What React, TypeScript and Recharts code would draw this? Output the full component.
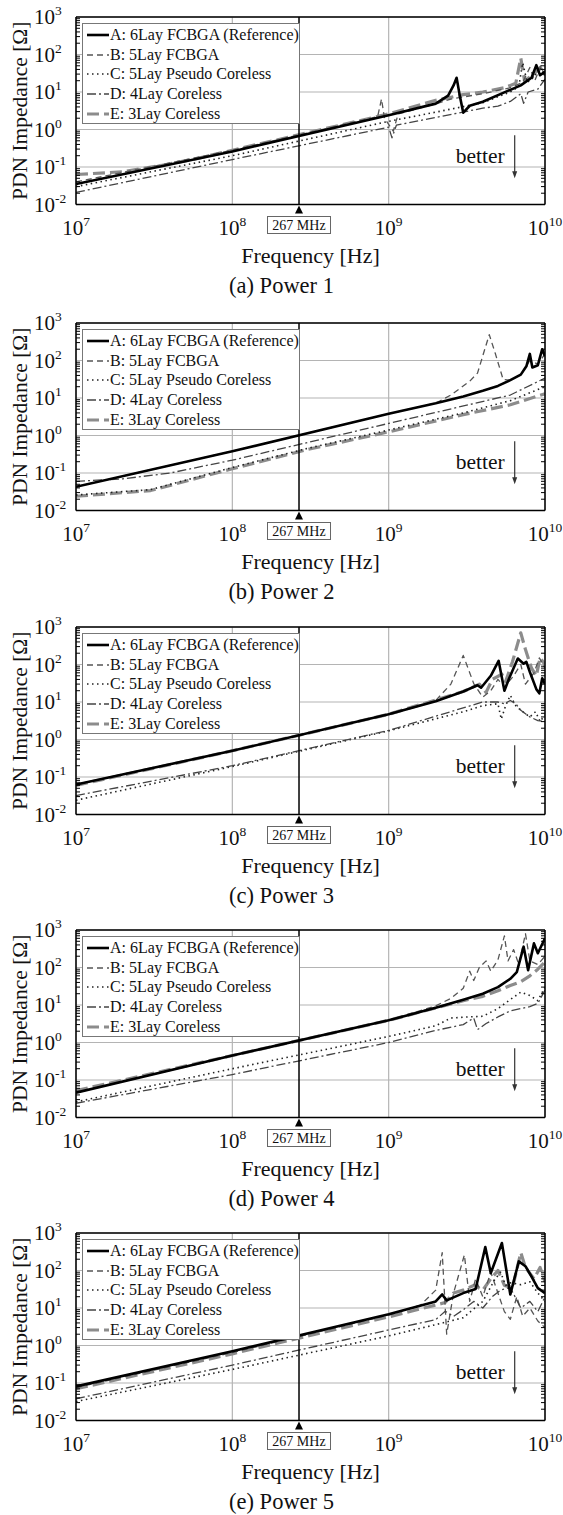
import React from "react"
import { LineChart, Line, XAxis, YAxis, CartesianGrid, ReferenceLine, Legend } from "recharts"

type Pt = [number, number] // [frequency Hz, impedance Ohm]

// (a) Power 1
const p1A: Pt[] = [[1e7, 0.035], [1e8, 0.26], [1e9, 2.4], [2e9, 4.9], [2.4e9, 8], [2.6e9, 15], [2.72e9, 24], [2.85e9, 8], [3e9, 2.8], [3.3e9, 4.3], [4e9, 5.5], [5.4e9, 9.5], [7e9, 15], [8.2e9, 24], [8.8e9, 52], [9.3e9, 28], [1e10, 35]]
const p1B: Pt[] = [[1e7, 0.04], [1e8, 0.28], [8.5e8, 2.2], [9e8, 6.5], [9.4e8, 2.0], [1.07e9, 0.9], [1.15e9, 2.6], [2e9, 4.8], [2.5e9, 6.5], [4e9, 9], [6e9, 13], [7.2e9, 18], [8e9, 45], [8.6e9, 20], [9.4e9, 50], [1e10, 25]]
const p1C: Pt[] = [[1e7, 0.03], [1e8, 0.2], [1e9, 1.65], [2e9, 2.9], [4e9, 5.2], [6e9, 10], [6.8e9, 14], [7.2e9, 60], [7.7e9, 18], [8.5e9, 25], [9.2e9, 45], [1e10, 30]]
const p1D: Pt[] = [[1e7, 0.021], [1e8, 0.158], [1e9, 1.15], [1.05e9, 0.6], [1.12e9, 1.3], [2e9, 2.1], [4e9, 3.7], [5e9, 4.2], [6e9, 5.6], [7e9, 9], [7.3e9, 5], [7.8e9, 10], [9e9, 12], [1e10, 22]]
const p1E: Pt[] = [[1e7, 0.063], [2e7, 0.075], [3.5e7, 0.11], [6e7, 0.17], [1e8, 0.28], [1e9, 2.6], [2e9, 6], [3e9, 8.5], [4e9, 10], [5.5e9, 13], [6.5e9, 17], [7e9, 80], [7.4e9, 20], [8.5e9, 30], [9.3e9, 45], [1e10, 30]]

// (b) Power 2
const p2A: Pt[] = [[1e7, 0.043], [1e8, 0.38], [1e9, 3.8], [2e9, 7.2], [3e9, 11], [4e9, 15.6], [5e9, 21], [6e9, 30], [7e9, 42], [7.6e9, 70], [8e9, 150], [8.3e9, 65], [9e9, 75], [9.6e9, 200], [1e10, 130]]
const p2B: Pt[] = [[1e7, 0.043], [1e8, 0.38], [1e9, 3.8], [2e9, 7.3], [2.5e9, 12], [3.3e9, 28], [3.7e9, 46], [4.4e9, 490], [4.8e9, 158], [5.4e9, 31], [6e9, 30], [7e9, 42], [8e9, 100], [9e9, 80], [1e10, 150]]
const p2C: Pt[] = [[1e7, 0.026], [3e7, 0.036], [1e8, 0.14], [3e8, 0.45], [1e9, 1.4], [3e9, 4], [6e9, 8.5], [1e10, 20]]
const p2D: Pt[] = [[1e7, 0.06], [2e7, 0.07], [4e7, 0.1], [1e8, 0.22], [1e9, 2.1], [6e9, 12], [1e10, 34]]
const p2E: Pt[] = [[1e7, 0.024], [3e7, 0.034], [1e8, 0.13], [3e8, 0.42], [1e9, 1.25], [3e9, 3.6], [6e9, 6.6], [1e10, 13]]

// (c) Power 3
const p3A: Pt[] = [[1e7, 0.063], [1e8, 0.5], [1e9, 4.7], [2e9, 10.5], [3e9, 19], [3.7e9, 28], [3.9e9, 24], [4.5e9, 50], [5.05e9, 125], [5.5e9, 20], [5.9e9, 43], [6.7e9, 144], [7.3e9, 105], [7.6e9, 117], [8e9, 63], [8.8e9, 22], [9.2e9, 17], [9.6e9, 43], [1e10, 30]]
const p3B: Pt[] = [[1e7, 0.063], [1e8, 0.5], [1e9, 4.8], [2e9, 11], [2.5e9, 30], [3e9, 175], [3.5e9, 31], [4e9, 13.5], [4.5e9, 20], [5e9, 40], [5.5e9, 25], [6.3e9, 50], [7e9, 100], [7.5e9, 30], [8.5e9, 60], [9.2e9, 150], [1e10, 80]]
const p3C: Pt[] = [[1e7, 0.024], [1e8, 0.19], [1e9, 1.7], [3e9, 5.5], [4e9, 8], [5e9, 9], [5.25e9, 3.5], [5.6e9, 8], [6e9, 15], [6.5e9, 8], [7e9, 6], [8e9, 4], [8.7e9, 5.5], [9.3e9, 3], [1e10, 4.5]]
const p3D: Pt[] = [[1e7, 0.032], [1e8, 0.2], [1e9, 1.75], [4e9, 10], [5e9, 10], [5.5e9, 9], [6e9, 11], [6.5e9, 9], [7e9, 6], [8e9, 4], [9e9, 3.2], [1e10, 3]]
const p3E: Pt[] = [[1e7, 0.06], [1e8, 0.5], [1e9, 4.7], [3e9, 19], [3.8e9, 30], [4.2e9, 18], [4.6e9, 40], [5.3e9, 55], [5.6e9, 35], [6.2e9, 120], [7e9, 700], [7.5e9, 250], [8.2e9, 80], [8.8e9, 50], [9.3e9, 150], [1e10, 100]]

// (d) Power 4
const p4A: Pt[] = [[1e7, 0.046], [1e8, 0.45], [1e9, 3.9], [2e9, 8.4], [3e9, 13.8], [4e9, 20], [5e9, 30], [6e9, 50], [6.6e9, 75], [7.3e9, 360], [7.8e9, 85], [8.5e9, 440], [9e9, 240], [1e10, 600]]
const p4B: Pt[] = [[1e7, 0.046], [1e8, 0.45], [1e9, 3.9], [2e9, 9.5], [2.5e9, 15], [3e9, 28], [3.3e9, 80], [3.5e9, 45], [3.8e9, 100], [4.2e9, 150], [4.5e9, 80], [5e9, 160], [5.5e9, 700], [5.8e9, 150], [6.3e9, 300], [6.8e9, 120], [7.5e9, 800], [8e9, 150], [9e9, 120], [1e10, 200]]
const p4C: Pt[] = [[1e7, 0.026], [1e8, 0.2], [1e9, 1.45], [2e9, 2.8], [2.5e9, 4.5], [3.2e9, 4.8], [4e9, 5], [5e9, 8], [6e9, 14], [7e9, 22], [8e9, 18], [9e9, 13], [1e10, 30]]
const p4D: Pt[] = [[1e7, 0.024], [1e8, 0.14], [1e9, 1.0], [2e9, 2.1], [3e9, 3], [3.5e9, 4.5], [3.7e9, 2.2], [4.2e9, 3.2], [5e9, 4.8], [6e9, 7], [8e9, 9], [9e9, 11], [1e10, 25]]
const p4E: Pt[] = [[1e7, 0.052], [1e8, 0.45], [1e9, 3.9], [3e9, 13], [4e9, 17], [5e9, 24], [6e9, 33], [7e9, 42], [8e9, 60], [9e9, 90], [1e10, 140]]

// (e) Power 5
const p5A: Pt[] = [[1e7, 0.081], [1e8, 0.7], [1e9, 6.8], [2e9, 15], [2.2e9, 23], [2.35e9, 16], [3e9, 25], [3.6e9, 32], [4.15e9, 420], [4.5e9, 85], [5.3e9, 540], [6e9, 23], [6.8e9, 175], [7.5e9, 130], [8.3e9, 63], [9e9, 34], [1e10, 25]]
const p5B: Pt[] = [[1e7, 0.075], [1e8, 0.65], [1e9, 6.5], [1.6e9, 12], [2e9, 30], [2.2e9, 300], [2.35e9, 2], [2.6e9, 25], [3.05e9, 260], [3.3e9, 15], [3.6e9, 60], [4e9, 20], [4.5e9, 90], [5e9, 25], [5.5e9, 8], [6e9, 5], [6.6e9, 20], [7.2e9, 6], [8e9, 10], [9e9, 4.5], [1e10, 3]]
const p5C: Pt[] = [[1e7, 0.032], [1e8, 0.23], [1e9, 1.8], [2e9, 3.6], [3e9, 5.5], [4e9, 15], [4.8e9, 60], [5.2e9, 90], [5.6e9, 40], [6e9, 47], [7e9, 42], [8e9, 50], [9e9, 25], [1e10, 15]]
const p5D: Pt[] = [[1e7, 0.038], [1e8, 0.3], [1e9, 2.6], [2e9, 4.9], [2.3e9, 8.2], [2.6e9, 6], [3e9, 9], [3.5e9, 15], [4e9, 10], [4.6e9, 20], [5.2e9, 30], [6e9, 35], [7e9, 10], [8e9, 15], [9e9, 8], [1e10, 20]]
const p5E: Pt[] = [[1e7, 0.07], [1e8, 0.6], [1e9, 5.8], [2e9, 12], [2.3e9, 14], [2.6e9, 25], [3e9, 30], [3.5e9, 40], [4e9, 30], [4.5e9, 60], [5e9, 100], [5.5e9, 40], [6.2e9, 35], [7e9, 300], [7.5e9, 120], [8.5e9, 60], [9.3e9, 120], [1e10, 50]]

const CAPTIONS = ["(a) Power 1", "(b) Power 2", "(c) Power 3", "(d) Power 4", "(e) Power 5"]
const PANEL_DATA: Pt[][][] = [
  [p1A, p1B, p1C, p1D, p1E],
  [p2A, p2B, p2C, p2D, p2E],
  [p3A, p3B, p3C, p3D, p3E],
  [p4A, p4B, p4C, p4D, p4E],
  [p5A, p5B, p5C, p5D, p5E],
]

const SERIES_LABELS = ["A: 6Lay FCBGA (Reference)", "B: 5Lay FCBGA", "C: 5Lay Pseudo Coreless", "D: 4Lay Coreless", "E: 3Lay Coreless"]

const X_TICKS = [1e7, 1e8, 1e9, 1e10]
const Y_TICKS = [1e-2, 1e-1, 1, 1e1, 1e2, 1e3]
const X_TITLE = "Frequency [Hz]"
const Y_TITLE = "PDN Impedance [Ω]"
const MARK_FREQ = 2.67e8
const MARK_LABEL = "267 MHz"
const BETTER = { f: 6.4e9, from: 0.7, to: 0.05, text: "better" }

// minor tick positions (2..9 per decade)
const MULT = [2, 3, 4, 5, 6, 7, 8, 9]
const X_MINOR = [1e7, 1e8, 1e9].flatMap((d) => MULT.map((m) => m * d))
const Y_MINOR = [1e-2, 1e-1, 1, 1e1, 1e2].flatMap((d) => MULT.map((m) => m * d))

const SERIF = '"Liberation Serif", "Times New Roman", serif'
const STYLES = [
  { stroke: "#000", width: 2.6, dash: undefined as string | undefined },
  { stroke: "#555", width: 1.3, dash: "6 4" },
  { stroke: "#222", width: 1.6, dash: "1.5 3.5" },
  { stroke: "#444", width: 1.3, dash: "9 3 2 3" },
  { stroke: "#8c8c8c", width: 3.2, dash: "12 5" },
]
const DRAW_ORDER = [4, 1, 2, 3, 0]
const PANEL_TOPS = [0, 306, 610, 913, 1216]

const W = 563
const H = 303

const noTick = () => <g />

const renderXTick = (p: any) => (
  <text x={p.x} y={p.y} textAnchor="middle" fontSize={21} fontFamily={SERIF} fill="#111">
    10<tspan dy={-9} fontSize={13.5}>{Math.round(Math.log10(p.payload.value))}</tspan>
  </text>
)

const renderYTick = (p: any) => (
  <text x={p.x} y={p.y + 7} textAnchor="start" fontSize={21} fontFamily={SERIF} fill="#111">
    10<tspan dy={-9} fontSize={13.5}>{Math.round(Math.log10(p.payload.value))}</tspan>
  </text>
)

const markerShape = (p: any) => {
  const x = p.x1
  const top = Math.min(p.y1, p.y2)
  const bot = Math.max(p.y1, p.y2)
  return (
    <g>
      <line x1={x} x2={x} y1={top} y2={bot} stroke="#000" strokeWidth={1.5} />
      <path d={`M${x},${bot + 1} L${x - 4},${bot + 9} L${x + 4},${bot + 9} Z`} fill="#000" />
      <rect x={x - 31.5} y={bot + 12} width={63} height={17} fill="#fff" stroke="#666" strokeWidth={1} />
      <text x={x} y={bot + 25} textAnchor="middle" fontSize={14} fontFamily={SERIF} fill="#111">
        {MARK_LABEL}
      </text>
    </g>
  )
}

const betterShape = (p: any) => {
  const x = p.x1
  const top = Math.min(p.y1, p.y2)
  const bot = Math.max(p.y1, p.y2)
  return (
    <g>
      <line x1={x} x2={x} y1={top} y2={bot - 6} stroke="#333" strokeWidth={1.2} />
      <path d={`M${x - 2.5},${bot - 7} L${x + 2.5},${bot - 7} L${x},${bot} Z`} fill="#333" />
      <text x={x - 10} y={top + 28} textAnchor="end" fontSize={21.5} fontFamily={SERIF} fill="#111">
        {BETTER.text}
      </text>
    </g>
  )
}

const renderLegend = () => (
  <div
    style={{
      border: "1px solid #777",
      background: "#fff",
      boxSizing: "border-box",
      width: 218,
      height: 101,
      padding: "1px 0",
      fontFamily: SERIF,
      fontSize: 16,
      color: "#111",
    }}
  >
    {SERIES_LABELS.map((label, i) => (
      <div key={label} style={{ display: "flex", alignItems: "center", height: 19.8 }}>
        <svg width={26} height={6} style={{ flex: "none" }}>
          <line x1={4} x2={26} y1={3} y2={3} stroke={STYLES[i].stroke} strokeWidth={STYLES[i].width} strokeDasharray={STYLES[i].dash} />
        </svg>
        <span style={{ marginLeft: 1, whiteSpace: "nowrap" }}>{label}</span>
      </div>
    ))}
  </div>
)

function Panel({ index }: { index: number }) {
  const series = PANEL_DATA[index]
  const caption = CAPTIONS[index]

  const xTitle = (p: any) => {
    const vb = p.viewBox
    return (
      <g>
        <text x={vb.x + vb.width / 2} y={vb.y + 58} textAnchor="middle" fontSize={22} fontFamily={SERIF} fill="#111">
          {X_TITLE}
        </text>
        <text x={W / 2} y={vb.y + 88} textAnchor="middle" fontSize={22.5} fontFamily={SERIF} fill="#111">
          {caption}
        </text>
      </g>
    )
  }

  const yTitle = (p: any) => {
    const vb = p.viewBox
    const cy = vb.y + vb.height / 2
    return (
      <text x={27} y={cy} transform={`rotate(-90, 27, ${cy})`} textAnchor="middle" fontSize={21.5} fontFamily={SERIF} fill="#111">
        {Y_TITLE}
      </text>
    )
  }

  return (
    <div style={{ position: "absolute", left: 0, top: PANEL_TOPS[index], width: W, height: H }}>
      <LineChart width={W} height={H} margin={{ top: 17, right: 18, bottom: 68.5, left: 26 }}>
        <CartesianGrid stroke="#b4b4b4" strokeWidth={1.2} />
        <XAxis
          dataKey="f"
          type="number"
          scale="log"
          domain={[1e7, 1e10]}
          allowDataOverflow
          ticks={X_TICKS}
          interval={0}
          height={30}
          tickSize={0}
          tickMargin={30}
          tickLine={false}
          axisLine={{ stroke: "#000", strokeWidth: 1.5 }}
          tick={renderXTick}
          label={xTitle}
        />
        <YAxis
          type="number"
          scale="log"
          domain={[1e-2, 1e3]}
          allowDataOverflow
          ticks={Y_TICKS}
          interval={0}
          width={50}
          tickSize={0}
          tickMargin={42}
          tickLine={false}
          axisLine={{ stroke: "#000", strokeWidth: 1.5 }}
          tick={renderYTick}
          label={yTitle}
        />
        {/* inward minor ticks and frame */}
        <XAxis xAxisId="xb" type="number" scale="log" domain={[1e7, 1e10]} allowDataOverflow ticks={X_MINOR} interval={0}
          orientation="bottom" mirror axisLine={false} tickSize={5} tickLine={{ stroke: "#000", strokeWidth: 1 }} tick={noTick} />
        <XAxis xAxisId="xt" type="number" scale="log" domain={[1e7, 1e10]} allowDataOverflow ticks={X_MINOR} interval={0}
          orientation="top" mirror axisLine={{ stroke: "#000", strokeWidth: 1.5 }} tickSize={5} tickLine={{ stroke: "#000", strokeWidth: 1 }} tick={noTick} />
        <YAxis yAxisId="yl" type="number" scale="log" domain={[1e-2, 1e3]} allowDataOverflow ticks={Y_MINOR} interval={0}
          orientation="left" mirror axisLine={false} tickSize={4} tickLine={{ stroke: "#000", strokeWidth: 1 }} tick={noTick} />
        <YAxis yAxisId="yr" type="number" scale="log" domain={[1e-2, 1e3]} allowDataOverflow ticks={Y_MINOR} interval={0}
          orientation="right" mirror axisLine={{ stroke: "#000", strokeWidth: 1.5 }} tickSize={4} tickLine={{ stroke: "#000", strokeWidth: 1 }} tick={noTick} />

        {DRAW_ORDER.map((i) => (
          <Line
            key={SERIES_LABELS[i]}
            data={series[i].map(([f, v]) => ({ f, v }))}
            dataKey="v"
            type="linear"
            stroke={STYLES[i].stroke}
            strokeWidth={STYLES[i].width}
            strokeDasharray={STYLES[i].dash}
            strokeLinejoin="round"
            dot={false}
            activeDot={false}
            isAnimationActive={false}
          />
        ))}

        <ReferenceLine x={MARK_FREQ} shape={markerShape} />
        <ReferenceLine segment={[{ x: BETTER.f, y: BETTER.from }, { x: BETTER.f, y: BETTER.to }]} shape={betterShape} />

        <Legend
          layout="horizontal"
          verticalAlign="middle"
          align="center"
          wrapperStyle={{ left: 82, top: 23, width: 218, height: 101 }}
          content={renderLegend}
        />
      </LineChart>
    </div>
  )
}

export default function App() {
  return (
    <div style={{ position: "absolute", left: 0, top: 0, width: W, height: 1515, background: "#fff", fontFamily: SERIF }}>
      {CAPTIONS.map((c, i) => (
        <Panel key={c} index={i} />
      ))}
    </div>
  )
}
